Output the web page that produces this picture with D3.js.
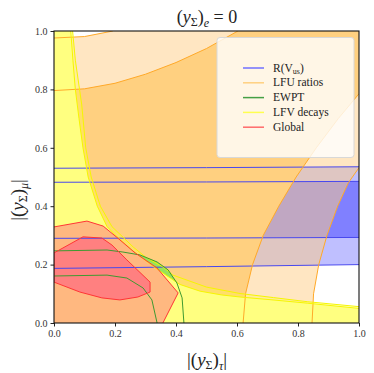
<!DOCTYPE html>
<html>
<head>
<meta charset="utf-8">
<script src="https://cdn.jsdelivr.net/npm/d3@7"></script>
<style>
body { margin: 0; background: white; }
svg text { fill: #222; }
</style>
</head>
<body>
<script>
// R(Vus): band edges (2 sigma outer, 1 sigma inner)
const rvus2Lo = [[0, 0.187], [0.5, 0.193], [1, 0.200]];
const rvus1Lo = [[0, 0.290], [0.5, 0.291], [1, 0.293]];
const rvus1Hi = [[0, 0.482], [0.5, 0.483], [1, 0.485]];
const rvus2Hi = [[0, 0.530], [0.5, 0.532], [1, 0.535]];

// LFU ratios: upper-left curves (A = 1 sigma, B = 2 sigma), right curves (C = 1 sigma, D = 2 sigma)
const lfuA = [[0, 0.796], [0.1, 0.802], [0.2, 0.821], [0.3, 0.852], [0.4, 0.892], [0.5, 0.940], [0.603, 1.0]];
const lfuB = [[0, 0.976], [0.1, 0.981], [0.193, 1.0]];
const lfuC = [[0.62, 0], [0.628, 0.1], [0.651, 0.2], [0.686, 0.3], [0.737, 0.4], [0.794, 0.5], [0.86, 0.6], [0.932, 0.7], [1.0, 0.785]];
const lfuD = [[0.846, 0], [0.851, 0.1], [0.868, 0.2], [0.895, 0.3], [0.93, 0.4], [0.965, 0.48], [1.0, 0.532]];

// EWPT contours
const ewptOuter = [[0, 0.247], [0.174, 0.250], [0.226, 0.243], [0.282, 0.233], [0.338, 0.209], [0.374, 0.182], [0.403, 0.137], [0.42, 0.086], [0.426, 0]];
const ewptInner = [[0, 0.161], [0.174, 0.164], [0.239, 0.154], [0.292, 0.120], [0.321, 0.079], [0.338, 0]];

// LFV decays contours
const lfvInner = [[0.055, 1.0], [0.062, 0.9], [0.07, 0.8], [0.082, 0.7], [0.095, 0.6], [0.112, 0.5], [0.142, 0.4], [0.174, 0.33], [0.207, 0.295], [0.255, 0.25], [0.33, 0.19], [0.413, 0.132], [0.479, 0.109], [0.55, 0.096], [0.61, 0.089], [0.718, 0.079], [0.83, 0.068], [1.0, 0.05]];
const lfvOuter = [[0.061, 1.0], [0.07, 0.9], [0.091, 0.747], [0.104, 0.6], [0.122, 0.5], [0.152, 0.4], [0.19, 0.33], [0.26, 0.26], [0.30, 0.226], [0.36, 0.19], [0.39, 0.164], [0.5, 0.123], [0.61, 0.101], [0.72, 0.087], [0.83, 0.073], [1.0, 0.056]];

// Global fit contours
const globalOuter = [[0, 0.329], [0.108, 0.349], [0.161, 0.332], [0.21, 0.29], [0.266, 0.240], [0.338, 0.188], [0.407, 0.103], [0.357, 0]];
const globalInner = [[0, 0.240], [0.095, 0.295], [0.157, 0.291], [0.19, 0.267], [0.239, 0.216], [0.315, 0.140], [0.315, 0.106], [0.275, 0.089], [0.216, 0.079], [0.157, 0.086], [0.085, 0.106], [0, 0.140]];

const ticks = [0, 0.2, 0.4, 0.6, 0.8, 1.0];
const legendNames = ["R(V", "LFU ratios", "EWPT", "LFV decays", "Global"];
const legendColors = ["#7070ff", "#ffd080", "#45a045", "#ffff50", "#ff6a6a"];

const W = 374, H = 373;
const x = d3.scaleLinear().domain([0, 1]).range([54, 359]);
const y = d3.scaleLinear().domain([0, 1]).range([323, 31]);

const svg = d3.select("body").append("svg").attr("width", W).attr("height", H);
svg.append("clipPath").attr("id", "clip").append("rect")
    .attr("x", x(0)).attr("y", y(1)).attr("width", x(1) - x(0)).attr("height", y(0) - y(1));

const g = svg.append("g").attr("clip-path", "url(#clip)");
const line = d3.line().x(d => x(d[0])).y(d => y(d[1]));
const area = pts => line(pts) + "Z";
const rev = a => a.slice().reverse();

function fill(pts, color, op) {
    g.append("path").attr("d", area(pts)).attr("fill", color).attr("fill-opacity", op);
}
function stroke(pts, color, closed) {
    g.append("path").attr("d", closed ? area(pts) : line(pts))
        .attr("fill", "none").attr("stroke", color).attr("stroke-width", 1);
}

// fills
fill(rvus2Lo.concat(rev(rvus2Hi)), "#bfbfff", 1);
fill(rvus1Lo.concat(rev(rvus1Hi)), "#8080ff", 1);
fill([[0, 0]].concat(lfuB, [[1, 1]], rev(lfuD)), "rgb(255,205,134)", 0.5);
fill([[0, 0]].concat(lfuA, [[1, 1]], rev(lfuC)), "#ffd080", 1);
fill([[0, 0], [0, 1]].concat(lfvOuter, [[1, 0]]), "rgb(255,255,60)", 0.3);
fill([[0, 0]].concat(ewptOuter), "#98e25a", 1);
fill([[0, 0], [0, 1]].concat(lfvInner, [[1, 0]]), "#ffff80", 1);
fill([[0, 0]].concat(globalOuter), "#ffb880", 1);
fill(globalInner, "#ff8080", 1);

// contour lines
[rvus2Lo, rvus1Lo, rvus1Hi, rvus2Hi].forEach(c => stroke(c, "#4848ee"));
[lfuA, lfuB, lfuC, lfuD].forEach(c => stroke(c, "#ffa928"));
[lfvInner, lfvOuter].forEach(c => stroke(c, "#f6f600"));
[ewptOuter, ewptInner].forEach(c => stroke(c, "#3f9a30"));
stroke(globalOuter, "#ff3535");
stroke(globalInner, "#ff3535", true);

// axes
const xAxis = svg.append("g").attr("transform", `translate(0,${y(0)})`)
    .call(d3.axisBottom(x).tickValues(ticks).tickFormat(d3.format(".1f")).tickSize(3.5).tickPadding(3));
const yAxis = svg.append("g").attr("transform", `translate(${x(0)},0)`)
    .call(d3.axisLeft(y).tickValues(ticks).tickFormat(d3.format(".1f")).tickSize(3.5).tickPadding(3));
[xAxis, yAxis].forEach(a => {
    a.select(".domain").remove();
    a.selectAll("line").attr("stroke", "#222");
    a.selectAll("text").attr("font-size", 10).attr("font-family", "Liberation Serif").style("fill", "#333");
});
svg.append("rect").attr("x", x(0)).attr("y", y(1)).attr("width", x(1) - x(0)).attr("height", y(0) - y(1))
    .attr("fill", "none").attr("stroke", "#111").attr("stroke-width", 1.1);

// legend
const lg = svg.append("g");
lg.append("rect").attr("x", 217).attr("y", 37.5).attr("width", 137).attr("height", 120)
    .attr("rx", 3).attr("fill", "white").attr("fill-opacity", 0.8).attr("stroke", "#d8d8d8");
const items = lg.selectAll("g.item").data(legendNames).enter().append("g").attr("class", "item");
items.append("line")
    .attr("x1", 243).attr("x2", 264)
    .attr("y1", (d, i) => 68 + i * 14.8).attr("y2", (d, i) => 68 + i * 14.8)
    .attr("stroke", (d, i) => legendColors[i]).attr("stroke-width", 1.5);
items.append("text")
    .attr("x", 273).attr("y", (d, i) => 71.5 + i * 14.8)
    .attr("font-family", "Liberation Serif").attr("font-size", 11.5)
    .each(function(d, i) {
        const t = d3.select(this);
        if (i === 0) {
            t.append("tspan").text("R(V");
            t.append("tspan").text("us").attr("font-size", 8).attr("dy", 2);
            t.append("tspan").text(")").attr("dy", -2);
        } else {
            t.text(d);
        }
    });

// title and axis labels
const title = svg.append("text").attr("x", 207).attr("y", 23).attr("text-anchor", "middle")
    .attr("font-size", 18).attr("font-family", "Liberation Serif");
title.append("tspan").text("(");
title.append("tspan").text("y").attr("font-style", "italic");
title.append("tspan").text("Σ").attr("font-size", 12).attr("dy", 3);
title.append("tspan").text(")").attr("dy", -3);
title.append("tspan").text("e").attr("font-style", "italic").attr("font-size", 12).attr("dy", 4);
title.append("tspan").text(" = 0").attr("dy", -4);

function label(sel, sub) {
    sel.append("tspan").text("|(");
    sel.append("tspan").text("y").attr("font-style", "italic");
    sel.append("tspan").text("Σ").attr("font-size", 12).attr("dy", 3);
    sel.append("tspan").text(")").attr("dy", -3);
    sel.append("tspan").text(sub).attr("font-style", "italic").attr("font-size", 12).attr("dy", 4);
    sel.append("tspan").text("|").attr("dy", -4);
}
label(svg.append("text").attr("x", 207).attr("y", 366).attr("text-anchor", "middle")
    .attr("font-size", 19).attr("font-family", "Liberation Serif"), "τ");
label(svg.append("text").attr("transform", "translate(24,200) rotate(-90)").attr("text-anchor", "middle")
    .attr("font-size", 19).attr("font-family", "Liberation Serif"), "μ");
</script>
</body>
</html>
